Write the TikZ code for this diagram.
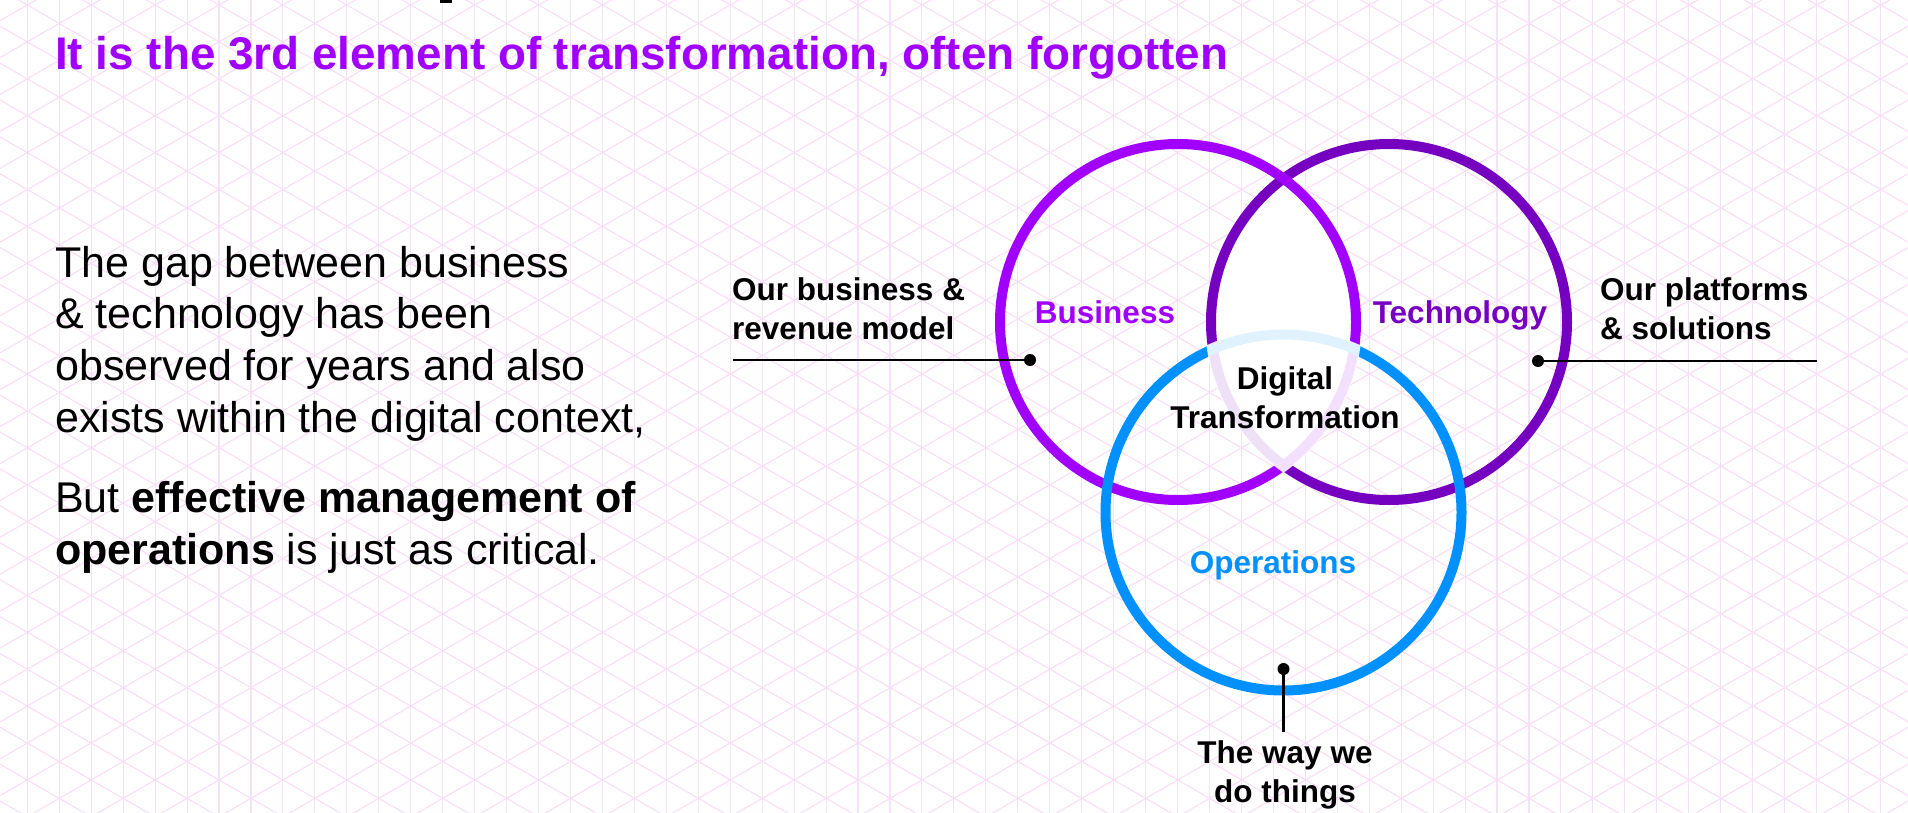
\documentclass[tikz,border=0pt]{standalone}
\usepackage{fontspec}
\setmainfont{Liberation Sans}

\definecolor{bizpurple}{HTML}{A100FF}
\definecolor{techpurple}{HTML}{7500C0}
\definecolor{opsblue}{HTML}{0091FF}
\definecolor{gridv}{HTML}{F2E3F9}
\definecolor{gridd}{HTML}{F9DDF7}

\tikzset{
  gridvert/.style={draw=gridv, line width=1.1pt},
  griddiag/.style={draw=gridd, line width=1.1pt},
  ring/.style={line width=10pt},
  leader/.style={draw=black, line width=2.6pt},
  dot/.style={circle, fill=black, inner sep=0pt, minimum size=12pt},
  heading/.style={font=\fontsize{45.8}{54}\selectfont\bfseries, text=bizpurple, inner sep=0pt},
  body/.style={font=\fontsize{43}{51.6}\selectfont, align=left, inner sep=0pt},
  callout/.style={font=\fontsize{31.5}{39}\selectfont\bfseries, inner sep=0pt},
  setname/.style={font=\fontsize{31.5}{39}\selectfont\bfseries, inner sep=0pt},
}

\begin{document}
\begin{tikzpicture}[x=1pt, y=-1pt]
\useasboundingbox (0,0) rectangle (1908,813);
\fill[white] (0,0) rectangle (1908,813);

% isometric background grid
\begin{scope}
  \clip (0,0) rectangle (1908,813);
  \foreach \k in {0,...,60} {
    \draw[gridvert] ({27.3+31.95*\k}, -5) -- ({27.3+31.95*\k}, 820);
  }
  \foreach \k in {-50,...,7} {
    \draw[griddiag] (-20, {632.3+36.9*\k-0.57735*47.3}) -- (1930, {632.3+36.9*\k+0.57735*1902.7});
  }
  \foreach \k in {-20,...,37} {
    \draw[griddiag] (-20, {632.3+36.9*\k+0.57735*47.3}) -- (1930, {632.3+36.9*\k-0.57735*1902.7});
  }
\end{scope}

% small mark cut by the top edge
\fill[black] (440,0) rectangle (452,3);

% circle centres
\coordinate (B) at (1178,322);
\coordinate (T) at (1389,322);
\coordinate (O) at (1283.5,512.5);

% white lens shared by business and technology
\begin{scope}
  \clip (B) circle[radius=178pt];
  \fill[white] (T) circle[radius=178pt];
\end{scope}

% the three rings
\draw[ring, techpurple] (T) circle[radius=178pt];
\draw[ring, bizpurple] (B) circle[radius=178pt];
\draw[ring, opsblue] (O) circle[radius=178pt];

% faded core where all three overlap
\begin{scope}
  \clip (B) circle[radius=184pt];
  \clip (T) circle[radius=184pt];
  \fill[white, opacity=0.88] (O) circle[radius=184pt];
\end{scope}

% heading
\node[heading, anchor=base west] (title) at (55,70) {It is the 3rd element of transformation, often forgotten};

% body text (anchored on the baseline of the last line)
\node[body, anchor=base west] (para1) at (55,432) {The gap between business\\\& technology has been\\observed for years and also\\exists within the digital context,};
\node[body, anchor=base west] (para2) at (55,564) {But \textbf{effective management of}\\\textbf{operations} is just as critical.};

% set names
\node[setname, text=bizpurple, anchor=base] (bizlabel) at (1105,323) {Business};
\node[setname, text=techpurple, anchor=base] (techlabel) at (1460,323) {Technology};
\node[setname, text=opsblue, anchor=base] (opslabel) at (1273,573) {Operations};
\node[setname, align=center, anchor=base] (core) at (1285,428) {Digital\\Transformation};

% callouts
\node[dot] (bdot) at (1030,360) {};
\coordinate (bend) at (733,360);
\draw[leader] (bend) -- (bdot.center);
\node[callout, align=left, anchor=base west] (bizcall) at (732,339) {Our business \&\\revenue model};

\node[dot] (tdot) at (1538,361) {};
\coordinate (tend) at (1817,361);
\draw[leader] (tdot.center) -- (tend);
\node[callout, align=left, anchor=base west] (techcall) at (1600,339) {Our platforms\\\& solutions};

\node[dot] (odot) at (1283.5,669) {};
\coordinate (oend) at (1283.5,732);
\draw[leader] (odot.center) -- (oend);
\node[callout, align=center, anchor=base] (opscall) at (1285,802) {The way we\\do things};
\end{tikzpicture}
\end{document}
